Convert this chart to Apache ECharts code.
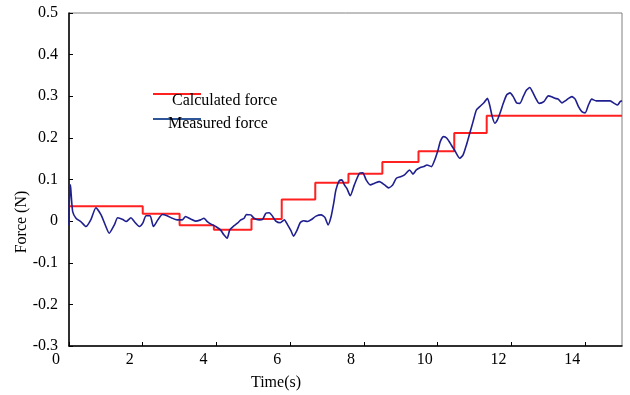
<!DOCTYPE html>
<html>
<head>
<meta charset="utf-8">
<script src="https://cdn.jsdelivr.net/npm/echarts@6/dist/echarts.min.js"></script>
<style>
html, body { margin: 0; padding: 0; background: #fff; }
#chart { width: 630px; height: 395px; }
</style>
</head>
<body>
<div id="chart"></div>
<script>
// calculated force (step line): time where each step begins, and its level
var stepTimes = [0, 2.0, 3.0, 3.93, 4.95, 5.77, 6.68, 7.58, 8.5, 9.48, 10.45, 11.33, 15];
var stepForces = [0.036, 0.018, -0.01, -0.021, 0.005, 0.052, 0.092, 0.114, 0.142, 0.168, 0.212, 0.253, 0.253];

// measured force
var measuredTime = [
    0, 0.01, 0.04, 0.06, 0.10, 0.19, 0.32, 0.46, 0.59, 0.73, 0.87, 1.00, 1.09, 1.23, 1.32, 1.46, 1.55, 1.68, 1.77, 1.91,
    2.00, 2.09, 2.20, 2.29, 2.41, 2.53, 2.66, 2.80, 2.93, 3.07, 3.16, 3.30, 3.43, 3.57, 3.66, 3.75, 3.89, 3.98,
    4.11, 4.20, 4.29, 4.36, 4.45, 4.57, 4.66, 4.75, 4.81, 4.93, 5.02, 5.16, 5.25, 5.34, 5.43, 5.52, 5.61, 5.73, 5.84, 5.93,
    6.02, 6.09, 6.18, 6.27, 6.36, 6.47, 6.58, 6.70, 6.84, 6.94, 7.03, 7.11, 7.18, 7.24, 7.33, 7.40, 7.47, 7.54, 7.63, 7.74, 7.88, 7.97,
    8.06, 8.17, 8.29, 8.42, 8.56, 8.67, 8.78, 8.88, 9.01, 9.10, 9.24, 9.33, 9.42, 9.53, 9.62, 9.71, 9.83, 9.92,
    10.01, 10.07, 10.16, 10.25, 10.37, 10.48, 10.60, 10.69, 10.78, 10.87, 10.96, 11.05, 11.14, 11.26, 11.35, 11.41, 11.48, 11.55, 11.62, 11.69, 11.78, 11.87, 11.96,
    12.05, 12.14, 12.23, 12.32, 12.41, 12.50, 12.57, 12.66, 12.75, 12.88, 13.00, 13.09, 13.18, 13.27, 13.37, 13.46, 13.55, 13.64, 13.73, 13.82, 13.91,
    14.00, 14.09, 14.18, 14.30, 14.41, 14.54, 14.68, 14.79, 14.88, 14.95, 15.00
];
var measuredForce = [
    -0.01, 0.047, 0.087, 0.063, 0.023, 0.007, -0.001, -0.013, 0.003, 0.032, 0.015, -0.013, -0.029, -0.009, 0.008, 0.004, -0.001, 0.008, -0.001, -0.013,
    -0.005, 0.013, 0.013, -0.013, 0.003, 0.016, 0.013, 0.007, 0.003, 0.003, 0.011, 0.005, 0.0, 0.003, 0.007, -0.001, -0.009, -0.013,
    -0.021, -0.033, -0.041, -0.021, -0.013, -0.005, 0.003, 0.007, 0.016, 0.015, 0.007, 0.003, 0.004, 0.019, 0.02, 0.012, 0.0, -0.004, 0.003, -0.009,
    -0.023, -0.036, -0.023, -0.004, 0.001, -0.001, 0.004, 0.012, 0.015, 0.009, -0.009, 0.011, 0.043, 0.075, 0.097, 0.099, 0.087, 0.078, 0.061, 0.087, 0.115, 0.116,
    0.099, 0.087, 0.091, 0.095, 0.087, 0.08, 0.087, 0.103, 0.107, 0.111, 0.123, 0.113, 0.123, 0.129, 0.131, 0.135, 0.131, 0.147,
    0.171, 0.191, 0.203, 0.199, 0.183, 0.167, 0.151, 0.159, 0.183, 0.211, 0.239, 0.267, 0.275, 0.285, 0.295, 0.279, 0.251, 0.235, 0.243, 0.259, 0.283, 0.303, 0.308,
    0.299, 0.284, 0.283, 0.299, 0.315, 0.321, 0.311, 0.295, 0.283, 0.287, 0.301, 0.299, 0.295, 0.293, 0.284, 0.289, 0.295, 0.299, 0.293, 0.275, 0.263,
    0.26, 0.279, 0.293, 0.289, 0.289, 0.289, 0.289, 0.283, 0.279, 0.287, 0.289
];

var fontFamily = "'Liberation Serif', 'Times New Roman', serif";

var calcData = stepTimes.map(function (t, i) { return [t, stepForces[i]]; });
var measData = measuredTime.map(function (t, i) { return [t, measuredForce[i]]; });

var chart = echarts.init(document.getElementById('chart'));

var options = {
    backgroundColor: '#fff',
    animation: false,
    grid: {
        left: 69,
        right: 8,
        top: 13,
        bottom: 49,
        show: true,
        borderColor: '#808080',
        borderWidth: 1
    },
    xAxis: {
        type: 'value',
        min: 0,
        max: 15,
        interval: 2,
        splitLine: { show: false },
        axisLine: { onZero: false, lineStyle: { color: '#000', width: 1.5 } },
        axisTick: { inside: true, length: 4, lineStyle: { color: '#000' } },
        axisLabel: {
            showMaxLabel: false,
            color: '#000',
            fontFamily: fontFamily,
            fontSize: 16,
            margin: 6,
            padding: [0, 26, 0, 0]
        }
    },
    yAxis: {
        type: 'value',
        min: -0.3,
        max: 0.5,
        interval: 0.1,
        splitLine: { show: false },
        axisLine: { onZero: false, lineStyle: { color: '#000', width: 1.5 } },
        axisTick: { inside: true, length: 4, lineStyle: { color: '#000' } },
        axisLabel: {
            color: '#000',
            fontFamily: fontFamily,
            fontSize: 16,
            margin: 11,
            padding: [6, 0, 0, 0]
        }
    },
    graphic: [
        // axis names
        {
            type: 'text', x: 22, y: 222, rotation: Math.PI / 2,
            style: { text: 'Force (N)', fontFamily: fontFamily, fontSize: 16, fill: '#000', align: 'center', verticalAlign: 'middle' }
        },
        {
            type: 'text', x: 276, y: 383,
            style: { text: 'Time(s)', fontFamily: fontFamily, fontSize: 16, fill: '#000', align: 'center', verticalAlign: 'middle' }
        },
        // legend, text sits on top of the line samples like the original
        {
            type: 'line', shape: { x1: 153, y1: 94, x2: 201, y2: 94 },
            style: { stroke: '#ff2020', lineWidth: 2 }
        },
        {
            type: 'line', shape: { x1: 153, y1: 119, x2: 201, y2: 119 },
            style: { stroke: '#2e5597', lineWidth: 2 }
        },
        {
            type: 'text', x: 172, y: 101,
            style: { text: 'Calculated force', fontFamily: fontFamily, fontSize: 16, fill: '#000', align: 'left', verticalAlign: 'middle' }
        },
        {
            type: 'text', x: 168, y: 124,
            style: { text: 'Measured force', fontFamily: fontFamily, fontSize: 16, fill: '#000', align: 'left', verticalAlign: 'middle' }
        }
    ],
    series: [
        {
            name: 'Calculated force',
            type: 'line',
            step: 'end',
            data: calcData,
            showSymbol: false,
            lineStyle: { color: '#ff2020', width: 2 },
            z: 2
        },
        {
            name: 'Measured force',
            type: 'line',
            data: measData,
            smooth: 0.2,
            showSymbol: false,
            lineStyle: { color: '#1f1f8f', width: 1.6 },
            z: 3
        }
    ]
};

chart.setOption(options);
</script>
</body>
</html>
